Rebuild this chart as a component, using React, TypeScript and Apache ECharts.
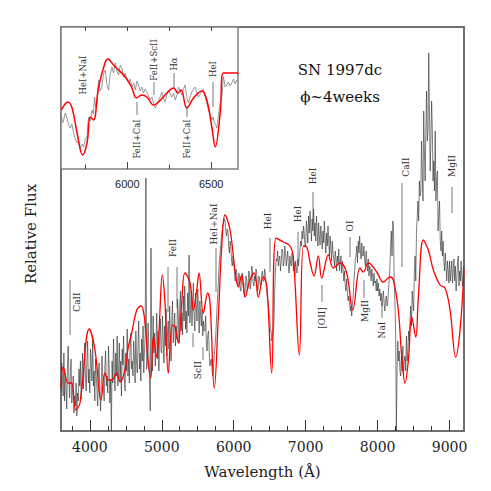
import React, { useEffect, useRef } from "react";
import * as echarts from "echarts";

// Observed spectrum (main panel), sampled every 10 Å from 3600 Å
const obsStart = 3600;
const obsStep = 10;
const obsFlux = [
  // 3600-3790
  40, 68, 52, 35, 78, 30, 58, 44, 22, 64, 85, 50, 33, 60, 72, 28, 40, 55, 18, 35,
  // 3800-3990
  25, 48, 15, 38, 30, 62, 45, 70, 32, 52, 78, 42, 60, 88, 55, 40, 72, 90, 48, 62,
  // 4000-4190
  38, 82, 68, 50, 92, 45, 60, 30, 72, 55, 40, 25, 58, 68, 35, 20, 48, 75, 55, 42,
  // 4200-4390
  30, 65, 80, 45, 55, 38, 85, 60, 28, 52, 0, 70, 48, 92, 62, 40, 78, 55, 95, 45,
  // 4400-4590
  62, 88, 50, 70, 35, 82, 66, 95, 52, 40, 78, 60, 102, 55, 72, 48, 85, 98, 62, 70,
  // 4600-4790
  55, 90, 75, 48, 100, 68, 58, 85, 110, 62, 78, 50, 92, 70, 105, 58, 80, 96, 253, 62,
  // 4800-4990
  70, 108, 85, 52, 20, 183, 90, 60, 115, 78, 98, 65, 88, 118, 72, 100, 60, 92, 112, 80,
  // 5000-5190
  78, 115, 92, 68, 105, 85, 122, 75, 98, 110, 82, 125, 95, 70, 112, 130, 88, 102, 118, 85,
  // 5200-5390
  105, 92, 132, 115, 88, 125, 140, 100, 118, 96, 135, 110, 145, 102, 120, 98, 138, 115, 176, 108,
  // 5400-5590
  122, 140, 105, 130, 148, 115, 100, 138, 125, 110, 142, 120, 98, 130, 115, 105, 122, 95, 110, 100,
  // 5600-5790
  100, 115, 88, 80, 96, 100, 78, 65, 70, 72, 60, 55, 66, 75, 85, 95, 110, 125, 140, 155,
  // 5800-5990
  170, 178, 185, 195, 200, 205, 208, 212, 210, 200, 195, 202, 200, 185, 178, 190, 185, 170, 165, 175,
  // 6000-6190
  170, 158, 150, 162, 160, 148, 145, 158, 155, 142, 140, 155, 158, 146, 148, 135, 140, 155, 152, 140,
  // 6200-6390
  145, 160, 155, 142, 148, 165, 160, 148, 145, 155, 150, 162, 158, 140, 142, 155, 152, 145, 148, 158,
  // 6400-6590
  160, 150, 150, 162, 156, 145, 140, 132, 130, 118, 115, 100, 100, 90, 95, 98, 110, 140, 160, 172,
  // 6600-6790
  170, 180, 165, 172, 175, 160, 168, 182, 180, 165, 170, 185, 178, 165, 172, 180, 165, 158, 175, 168,
  // 6800-6990
  165, 178, 172, 160, 168, 155, 170, 162, 158, 172, 165, 175, 180, 190, 185, 200, 192, 205, 198, 185,
  // 7000-7190
  185, 210, 200, 188, 215, 198, 220, 205, 190, 212, 200, 222, 195, 208, 190, 215, 200, 185, 208, 195,
  // 7200-7390
  186, 205, 195, 182, 200, 188, 210, 192, 178, 198, 185, 205, 190, 175, 195, 182, 170, 190, 178, 172,
  // 7400-7590
  165, 180, 172, 160, 175, 168, 182, 160, 168, 175, 158, 170, 162, 150, 160, 145, 140, 152, 138, 130,
  // 7600-7790
  135, 128, 120, 125, 115, 128, 135, 150, 160, 172, 175, 185, 168, 190, 178, 195, 180, 172, 188, 175,
  // 7800-7990
  175, 185, 170, 165, 180, 168, 160, 172, 155, 165, 160, 150, 162, 155, 145, 158, 148, 150, 140, 152,
  // 8000-8190
  140, 148, 135, 142, 130, 138, 125, 132, 140, 128, 120, 130, 135, 125, 128, 140, 150, 165, 185, 200,
  // 8200-8390
  175, 210, 205, 150, 130, 100, 0, 60, 90, 70, 80, 60, 55, 75, 60, 85, 55, 70, 75, 60,
  // 8400-8590
  95, 70, 80, 100, 90, 110, 125, 105, 140, 130, 120, 160, 175, 150, 200, 215, 230, 210, 250, 235,
  // 8600-8790
  240, 290, 260, 230, 320, 280, 250, 300, 340, 290, 300, 378, 320, 260, 290, 330, 300, 250, 270, 240,
  // 8800-8990
  300, 230, 250, 260, 200, 215, 230, 190, 180, 200, 175, 190, 170, 160, 178, 165, 150, 170, 160, 148,
  // 9000-9190
  170, 150, 158, 170, 148, 160, 172, 150, 165, 140, 152, 168, 175, 145, 160, 150, 170, 155, 145, 162,
  // 9200
  165,
];

// Synthetic model spectrum (main panel)
const modelWave = [
  3600, 3632, 3701, 3749, 3804, 3864, 3993, 4072, 4156, 4211,
  4257, 4305, 4374, 4420, 4489, 4535, 4583, 4652, 4712, 4758,
  4813, 4847, 4883, 4930, 4962, 5008, 5045, 5091, 5147, 5184,
  5230, 5277, 5323, 5393, 5439, 5486, 5518, 5578, 5639, 5671,
  5730, 5786, 5833, 5879, 5949, 6018, 6064, 6111, 6157, 6226,
  6286, 6342, 6411, 6458, 6528, 6588, 6689, 6782, 6828, 6912,
  6967, 7015, 7060, 7116, 7176, 7223, 7315, 7384, 7477, 7570,
  7654, 7755, 7801, 7871, 7987, 8079, 8172, 8218, 8287, 8335,
  8381, 8427, 8474, 8529, 8566, 8635, 8704, 8774, 8867, 8936,
  9006, 9085, 9145, 9200,
];
const modelFlux = [
  44, 64, 48, 48, 21, 28, 102, 81, 31, 58,
  51, 51, 58, 49, 61, 84, 98, 121, 125, 114,
  68, 53, 94, 74, 101, 156, 128, 58, 106, 104,
  88, 128, 158, 148, 121, 141, 158, 118, 138, 128,
  43, 114, 184, 216, 201, 161, 144, 156, 134, 151,
  158, 134, 154, 146, 58, 193, 189, 185, 174, 76,
  185, 184, 169, 155, 175, 153, 176, 163, 168, 158,
  121, 163, 159, 168, 159, 149, 154, 151, 121, 74,
  48, 71, 114, 94, 134, 191, 181, 161, 146, 143,
  121, 74, 101, 161,
];

// Inset: observed spectrum
const insetObsWave = [
  5607, 5614, 5621, 5630, 5641, 5650, 5661, 5670, 5680, 5690,
  5701, 5710, 5720, 5730, 5740, 5750, 5760, 5765, 5770, 5780,
  5790, 5798, 5805, 5812, 5820, 5829, 5838, 5849, 5858, 5869,
  5878, 5889, 5898, 5909, 5918, 5929, 5938, 5948, 5958, 5968,
  5978, 5988, 5998, 6008, 6018, 6028, 6038, 6048, 6058, 6067,
  6077, 6087, 6097, 6107, 6117, 6127, 6137, 6147, 6157, 6167,
  6177, 6186, 6196, 6206, 6216, 6226, 6236, 6246, 6256, 6266,
  6276, 6286, 6296, 6305, 6315, 6325, 6335, 6345, 6355, 6365,
  6375, 6385, 6395, 6405, 6415, 6424, 6434, 6444, 6454, 6464,
  6474, 6484, 6494, 6504, 6512, 6520, 6527, 6534, 6544, 6554,
  6564, 6573, 6578, 6583, 6593, 6603, 6613, 6623, 6633, 6643,
  6653, 6660,
];
const insetObsFlux = [
  54, 46, 49, 56, 51, 44, 41, 45, 36, 30,
  26, 28, 21, 25, 22, 30, 32, 45, 52, 48,
  59, 55, 72, 62, 66, 89, 78, 82, 95, 99,
  85, 79, 95, 102, 96, 106, 98, 94, 104, 101,
  92, 96, 90, 86, 90, 82, 86, 79, 88, 84,
  78, 82, 76, 80, 77, 73, 69, 72, 66, 61,
  64, 69, 72, 77, 70, 67, 74, 79, 75, 72,
  76, 69, 74, 82, 78, 74, 80, 84, 72, 66,
  72, 77, 80, 82, 76, 72, 75, 77, 80, 72,
  66, 59, 55, 49, 52, 46, 44, 41, 55, 66,
  72, 92, 88, 82, 84, 87, 83, 86, 90, 85,
  89, 88,
];

// Inset: model spectrum
const insetModelWave = [
  5607, 5647, 5671, 5701, 5734, 5760, 5780, 5799, 5829, 5869,
  5885, 5918, 5988, 6028, 6054, 6087, 6117, 6157, 6186, 6236,
  6276, 6302, 6321, 6355, 6395, 6445, 6474, 6504, 6524, 6554,
  6573, 6653, 6661,
];
const insetModelFlux = [
  59, 67, 61, 36, 14, 26, 52, 49, 82, 107,
  110, 104, 92, 81, 71, 74, 72, 64, 67, 76,
  81, 76, 79, 61, 71, 78, 69, 42, 22, 56,
  96, 96, 95,
];

const mainTicks = [4000, 5000, 6000, 7000, 8000, 9000];
const mainMinorTicks = [3750, 4250, 4500, 4750, 5250, 5500, 5750, 6250, 6500, 6750, 7250, 7500, 7750, 8250, 8500, 8750];
const insetTicks = [6000, 6500];
const insetMinorTicks = [5750, 6250];
const insetTopTicks = [5750, 6000, 6250, 6500];

// Annotation layout (pixel positions)
const mainLabels = [
  { t: "CaII", x: 77, y: 302, l: [70, 280, 70, 335] },
  { t: "FeII", x: 173, y: 248, l: [168, 267, 168, 312] },
  { t: "", x: 0, y: 0, l: [177, 267, 177, 308] },
  { t: "ScII", x: 198, y: 370, l: [193, 333, 193, 347] },
  { t: "", x: 0, y: 0, l: [203, 347, 203, 360] },
  { t: "HeI+NaI", x: 214, y: 224, l: [216, 248, 216, 292] },
  { t: "HeI", x: 268, y: 221, l: [270, 238, 270, 272] },
  { t: "HeI", x: 298, y: 214, l: [298, 232, 298, 263] },
  { t: "HeI", x: 313, y: 176, l: [313, 192, 313, 225] },
  { t: "[OII]", x: 322, y: 318, l: [322, 285, 322, 302] },
  { t: "OI", x: 350, y: 226, l: [350, 237, 350, 257] },
  { t: "MgII", x: 365, y: 311, l: [364, 280, 364, 298] },
  { t: "NaI", x: 382, y: 330, l: [382, 302, 382, 318] },
  { t: "CaII", x: 406, y: 167, l: [402, 183, 402, 267] },
  { t: "MgII", x: 452, y: 166, l: [452, 187, 452, 213] },
];
const insetLabels = [
  { t: "HeI+NaI", x: 83, y: 75, l: null },
  { t: "FeII+ScII", x: 154, y: 60, l: [154, 82, 154, 95] },
  { t: "Hα", x: 174, y: 64, l: [174, 73, 174, 88] },
  { t: "HeI", x: 213, y: 69, l: [213, 82, 213, 107] },
  { t: "FeII+CaI", x: 137, y: 139, l: [137, 102, 137, 115] },
  { t: "FeII+CaI", x: 187, y: 139, l: [187, 106, 187, 117] },
];

const SERIF = '"DejaVu Serif", "Liberation Serif", serif';
const plain = (v: number) => String(v);

export default function App() {
  const ref = useRef<HTMLDivElement>(null);
  useEffect(() => {
    if (!ref.current) return;
    const chart = echarts.init(ref.current, undefined, { renderer: "svg" });

    const graphics: any[] = [];
    const addLabels = (arr: any[], size: number) => {
      arr.forEach((a) => {
        if (a.t) {
          graphics.push({
            type: "text",
            x: a.x,
            y: a.y,
            rotation: Math.PI / 2,
            z: 100,
            style: {
              text: a.t,
              fill: "#333",
              font: `${size}px ${SERIF}`,
              align: "center",
              verticalAlign: "middle",
            },
          });
        }
        if (a.l) {
          graphics.push({
            type: "line",
            z: 100,
            shape: { x1: a.l[0], y1: a.l[1], x2: a.l[2], y2: a.l[3] },
            style: { stroke: "#555", lineWidth: 0.8 },
          });
        }
      });
    };
    addLabels(mainLabels, 9);
    addLabels(insetLabels, 8.5);
    graphics.push(
      {
        type: "text",
        x: 340,
        y: 70,
        z: 100,
        style: { text: "SN 1997dc", fill: "#111", font: `15px ${SERIF}`, align: "center", verticalAlign: "middle" },
      },
      {
        type: "text",
        x: 340,
        y: 97,
        z: 100,
        style: { text: "ϕ~4weeks", fill: "#111", font: `15px ${SERIF}`, align: "center", verticalAlign: "middle" },
      },
      {
        type: "text",
        x: 31,
        y: 234,
        rotation: Math.PI / 2,
        z: 100,
        style: { text: "Relative Flux", fill: "#222", font: `15px ${SERIF}`, align: "center", verticalAlign: "middle" },
      }
    );

    const hiddenY = {
      type: "value",
      axisLine: { show: false },
      axisTick: { show: false },
      axisLabel: { show: false },
      splitLine: { show: false },
    };

    chart.setOption({
      animation: false,
      backgroundColor: "#fff",
      grid: [
        { left: 61, top: 27, width: 403, height: 404, show: true, borderColor: "#707070", borderWidth: 2, backgroundColor: "transparent" },
        { left: 61, top: 27, width: 177, height: 142, show: true, borderColor: "#808080", borderWidth: 1.5, backgroundColor: "#fff" },
      ],
      xAxis: [
        {
          type: "value", gridIndex: 0, min: 3600, max: 9200, position: "bottom",
          axisLine: { show: false },
          axisTick: { show: true, inside: true, length: 11, customValues: mainTicks, lineStyle: { color: "#333", width: 1 } },
          axisLabel: { customValues: mainTicks, formatter: plain, margin: 9, color: "#222", fontFamily: SERIF, fontSize: 14 },
          splitLine: { show: false },
          name: "Wavelength (Å)", nameLocation: "middle", nameGap: 33,
          nameTextStyle: { fontFamily: SERIF, fontSize: 15, color: "#222" },
        },
        {
          type: "value", gridIndex: 0, min: 3600, max: 9200, position: "bottom", offset: 0,
          axisLine: { show: false },
          axisTick: { show: true, inside: true, length: 5, customValues: mainMinorTicks, lineStyle: { color: "#333", width: 1 } },
          axisLabel: { show: false },
          splitLine: { show: false },
        },
        {
          type: "value", gridIndex: 1, min: 5605, max: 6660, position: "bottom",
          axisLine: { show: false },
          axisTick: { show: true, inside: true, length: 7, customValues: insetTicks, lineStyle: { color: "#444", width: 1 } },
          axisLabel: { customValues: insetTicks, formatter: plain, margin: 9, color: "#222", fontFamily: "Liberation Sans, Arial, sans-serif", fontSize: 11 },
          splitLine: { show: false },
        },
        {
          type: "value", gridIndex: 1, min: 5605, max: 6660, position: "bottom", offset: 0,
          axisLine: { show: false },
          axisTick: { show: true, inside: true, length: 4.5, customValues: insetMinorTicks, lineStyle: { color: "#444", width: 1 } },
          axisLabel: { show: false },
          splitLine: { show: false },
        },
        {
          type: "value", gridIndex: 1, min: 5605, max: 6660, position: "top",
          axisLine: { show: false },
          axisTick: { show: true, inside: true, length: 4, customValues: insetTopTicks, lineStyle: { color: "#444", width: 1 } },
          axisLabel: { show: false },
          splitLine: { show: false },
        },
      ],
      yAxis: [
        { ...hiddenY, gridIndex: 0, min: 0, max: 404 },
        { ...hiddenY, gridIndex: 1, min: 0, max: 142 },
      ],
      series: [
        {
          type: "line", xAxisIndex: 0, yAxisIndex: 0, showSymbol: false, clip: true,
          data: obsFlux.map((v, i) => [obsStart + i * obsStep, v]),
          lineStyle: { color: "#2a2a2a", width: 0.6 },
          z: 2,
        },
        {
          type: "line", xAxisIndex: 0, yAxisIndex: 0, showSymbol: false, clip: true, smooth: 0.4,
          data: modelWave.map((w, i) => [w, modelFlux[i]]),
          lineStyle: { color: "#ff0000", width: 1.3 },
          z: 3,
        },
        {
          type: "line", xAxisIndex: 2, yAxisIndex: 1, showSymbol: false, clip: true,
          data: insetObsWave.map((w, i) => [w, insetObsFlux[i]]),
          lineStyle: { color: "#808080", width: 0.8 },
          z: 4,
        },
        {
          type: "line", xAxisIndex: 2, yAxisIndex: 1, showSymbol: false, clip: true, smooth: 0.4,
          data: insetModelWave.map((w, i) => [w, insetModelFlux[i]]),
          lineStyle: { color: "#ff0000", width: 1.5 },
          z: 5,
        },
      ],
      graphic: graphics,
    });

    return () => chart.dispose();
  }, []);

  return <div ref={ref} style={{ position: "fixed", left: 0, top: 0, width: 491, height: 491 }} />;
}
